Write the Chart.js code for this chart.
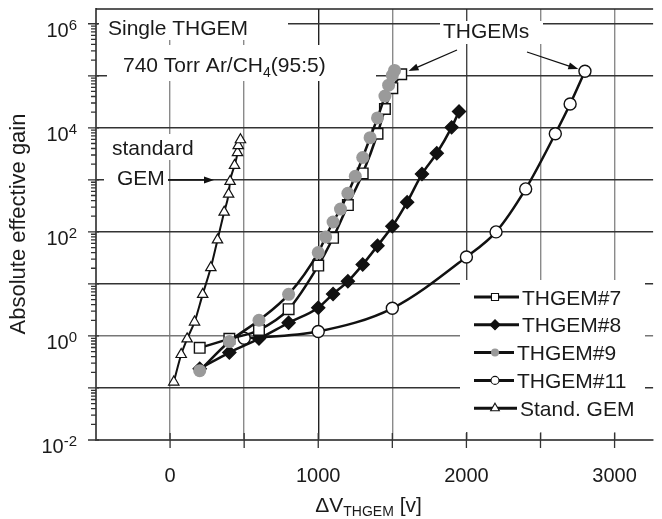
<!DOCTYPE html>
<html>
<head>
<meta charset="utf-8">
<script src="https://cdn.jsdelivr.net/npm/chart.js@4.4.1/dist/chart.umd.min.js"></script>
<style>
  html, body { margin: 0; padding: 0; background: #fff; }
  #wrap { width: 662px; height: 519px; }
</style>
</head>
<body>
<div id="wrap"><canvas id="gainChart"></canvas></div>
<script>
// values (volts, absolute gain)
const thgem7Volts = [200, 400, 600, 800, 1000, 1100, 1200, 1300, 1400, 1450, 1500, 1560];
const thgem7Gain  = [0.59, 0.88, 1.3, 3.27, 22.5, 77, 327, 1330, 7690, 23000, 57800, 107000];

const thgem8Volts = [200, 400, 600, 800, 1000, 1100, 1200, 1300, 1400, 1500, 1600, 1700, 1800, 1900, 1950];
const thgem8Gain  = [0.235, 0.48, 0.89, 1.79, 3.49, 6.4, 11.2, 23.5, 54, 128, 373, 1290, 3240, 10200, 20600];

const thgem9Volts = [200, 400, 600, 800, 1000, 1050, 1100, 1150, 1200, 1250, 1300, 1350, 1400, 1450, 1475, 1500, 1515];
const thgem9Gain  = [0.215, 0.78, 2.0, 6.3, 40, 80, 155, 274, 553, 1170, 2690, 6460, 15500, 40700, 66000, 102000, 127000];

const thgem11Volts = [500, 1000, 1500, 2000, 2200, 2400, 2600, 2700, 2800];
const thgem11Gain  = [0.9, 1.22, 3.4, 33, 100, 670, 7690, 28600, 122000];

const gemVolts = [25, 75, 115, 165, 220, 275, 320, 365, 395, 405, 435, 455, 460, 475];
const gemGain  = [0.13, 0.44, 0.88, 1.85, 6.3, 20.6, 70, 240, 530, 935, 1890, 3340, 4540, 5900];

const voltGrid = [0, 500, 1000, 1500, 2000, 2500, 3000];
const voltLabels = [0, 1000, 2000, 3000];
const gainExponents = [-2, 0, 2, 4, 6];

const FONT = "'Liberation Sans', Arial, Helvetica, sans-serif";
const INK = '#111';

const toPoints = (xs, ys) => xs.map((x, i) => ({ x: x, y: ys[i] }));

const lineSet = (label, xs, ys, style) => Object.assign({
    label: label,
    data: toPoints(xs, ys),
    borderColor: INK,
    borderWidth: 2.5,
    pointBorderColor: INK,
    pointBorderWidth: 1.4,
    cubicInterpolationMode: 'monotone',
    fill: false
}, style);

// index 0 is painted last, so the grey circles sit on top like in the figure
const datasets = [
    lineSet('THGEM#9', thgem9Volts, thgem9Gain, { pointStyle: 'circle', pointRadius: 6.5, pointBackgroundColor: '#9a9a9a', pointBorderColor: '#9a9a9a', pointBorderWidth: 0 }),
    lineSet('THGEM#7', thgem7Volts, thgem7Gain, { pointStyle: 'rect', pointRadius: 7.5, pointBackgroundColor: '#fff' }),
    lineSet('THGEM#8', thgem8Volts, thgem8Gain, { pointStyle: 'rectRot', pointRadius: 6.5, pointBackgroundColor: INK }),
    lineSet('THGEM#11', thgem11Volts, thgem11Gain, { pointStyle: 'circle', pointRadius: 6, pointBackgroundColor: '#fff' }),
    lineSet('Stand. GEM', gemVolts, gemGain, { pointStyle: 'triangle', pointRadius: 6, pointBackgroundColor: '#fff', borderWidth: 2, pointBorderWidth: 1.2 })
];

// legend rows in the figure's order: dataset label, marker size, text start
const legendRows = [
    { label: 'THGEM#7', r: 5, textX: 522 },
    { label: 'THGEM#8', r: 5, textX: 522 },
    { label: 'THGEM#9', r: 4, textX: 517 },
    { label: 'THGEM#11', r: 4, textX: 517 },
    { label: 'Stand. GEM', r: 5, textX: 520 }
];

function marker(ctx, style, x, y, r, fill, stroke, lw) {
    ctx.beginPath();
    if (style === 'rect') {
        const s = r * Math.SQRT1_2;
        ctx.rect(x - s, y - s, 2 * s, 2 * s);
    } else if (style === 'rectRot') {
        ctx.moveTo(x - r, y); ctx.lineTo(x, y - r); ctx.lineTo(x + r, y); ctx.lineTo(x, y + r); ctx.closePath();
    } else if (style === 'triangle') {
        ctx.moveTo(x, y - r);
        ctx.lineTo(x + r * Math.sin(2 * Math.PI / 3), y - r * Math.cos(2 * Math.PI / 3));
        ctx.lineTo(x + r * Math.sin(4 * Math.PI / 3), y - r * Math.cos(4 * Math.PI / 3));
        ctx.closePath();
    } else {
        ctx.arc(x, y, r, 0, Math.PI * 2);
    }
    ctx.fillStyle = fill;
    ctx.fill();
    if (lw > 0) { ctx.lineWidth = lw; ctx.strokeStyle = stroke; ctx.stroke(); }
}

function arrow(ctx, x0, y0, x1, y1) {
    const a = Math.atan2(y1 - y0, x1 - x0);
    const hl = 10, hw = 3.5;
    ctx.beginPath();
    ctx.moveTo(x0, y0);
    ctx.lineTo(x1 - Math.cos(a) * hl * 0.8, y1 - Math.sin(a) * hl * 0.8);
    ctx.lineWidth = 1.3;
    ctx.stroke();
    ctx.beginPath();
    ctx.moveTo(x1, y1);
    ctx.lineTo(x1 - Math.cos(a) * hl - Math.sin(a) * hw, y1 - Math.sin(a) * hl + Math.cos(a) * hw);
    ctx.lineTo(x1 - Math.cos(a) * hl + Math.sin(a) * hw, y1 - Math.sin(a) * hl - Math.cos(a) * hw);
    ctx.closePath();
    ctx.fill();
}

// arrow ending just outside the marker of a data point
function arrowTo(ctx, x0, y0, px, py, gap) {
    const d = Math.hypot(px - x0, py - y0);
    arrow(ctx, x0, y0, px - (px - x0) / d * gap, py - (py - y0) / d * gap);
}

function textRun(ctx, parts, x, y) {
    // parts: [text, size, dy]
    parts.forEach(p => {
        ctx.font = p[1] + 'px ' + FONT;
        ctx.fillText(p[0], x, y + (p[2] || 0));
        x += ctx.measureText(p[0]).width;
    });
    return x;
}

function runWidth(ctx, parts) {
    let w = 0;
    parts.forEach(p => { ctx.font = p[1] + 'px ' + FONT; w += ctx.measureText(p[0]).width; });
    return w;
}

const decorations = {
    id: 'decorations',
    beforeDatasetsDraw(chart) {
        const { ctx, chartArea: area, scales: { x, y } } = chart;
        ctx.save();

        // white patches where the figure's grid is broken by text
        ctx.fillStyle = '#fff';
        [[98, 6, 190, 34], [107, 45, 269, 36], [104, 134, 96, 26], [104, 160, 64, 32],
         [440, 21, 103, 23], [460, 280, 185, 152]].forEach(b => ctx.fillRect(b[0], b[1], b[2], b[3]));

        // top frame
        ctx.strokeStyle = '#222';
        ctx.lineWidth = 1.5;
        ctx.beginPath();
        ctx.moveTo(area.left, area.top);
        ctx.lineTo(area.right, area.top);
        ctx.stroke();

        // tick marks
        ctx.strokeStyle = '#333';
        ctx.lineWidth = 1.3;
        ctx.beginPath();
        for (let e = -2; e <= 6; e++) {
            const py = y.getPixelForValue(Math.pow(10, e));
            ctx.moveTo(area.left - 8, py); ctx.lineTo(area.left + 3, py);
            for (let m = 2; m <= 9; m++) {
                const v = m * Math.pow(10, e);
                if (v > y.max) break;
                const pm = y.getPixelForValue(v);
                ctx.moveTo(area.left - 5, pm); ctx.lineTo(area.left, pm);
            }
        }
        voltGrid.forEach(v => {
            const px = x.getPixelForValue(v);
            ctx.moveTo(px, area.bottom - 7); ctx.lineTo(px, area.bottom + 8);
        });
        ctx.stroke();

        ctx.fillStyle = '#1a1a1a';
        ctx.textBaseline = 'alphabetic';

        // y tick labels, 10 with a raised exponent
        gainExponents.forEach(e => {
            const py = y.getPixelForValue(Math.pow(10, e));
            ctx.textAlign = 'right';
            ctx.font = '15px ' + FONT;
            const ex = String(e);
            ctx.fillText(ex, 77, py + 6);
            const ew = ctx.measureText(ex).width;
            ctx.font = '20px ' + FONT;
            ctx.fillText('10', 77 - ew, py + 13);
        });

        // x tick labels
        ctx.textAlign = 'center';
        ctx.font = '20px ' + FONT;
        voltLabels.forEach(v => ctx.fillText(String(v), x.getPixelForValue(v), 482));

        // x title with subscript
        ctx.textAlign = 'left';
        const xTitle = [['\u0394V', 21], ['THGEM', 14, 4], [' [v]', 21]];
        textRun(ctx, xTitle, (area.left + area.right) / 2 - 6 - runWidth(ctx, xTitle) / 2, 512);

        // y title
        ctx.save();
        ctx.translate(25, 224);
        ctx.rotate(-Math.PI / 2);
        ctx.textAlign = 'center';
        ctx.font = '22px ' + FONT;
        ctx.fillText('Absolute effective gain', 0, 0);
        ctx.restore();

        // labels inside the plot
        ctx.textAlign = 'left';
        textRun(ctx, [['Single THGEM', 21]], 108, 35);
        textRun(ctx, [['740 Torr Ar/CH', 21], ['4', 14, 5], ['(95:5)', 21]], 123, 72);
        textRun(ctx, [['standard', 21]], 112, 155);
        textRun(ctx, [['GEM', 21]], 117, 185);
        textRun(ctx, [['THGEMs', 21]], 443, 38);

        ctx.strokeStyle = INK;
        ctx.fillStyle = INK;
        arrow(ctx, 168, 180, 214, 180);
        const last7 = thgem7Volts.length - 1;
        const last11 = thgem11Volts.length - 1;
        arrowTo(ctx, 457, 50, x.getPixelForValue(thgem7Volts[last7]), y.getPixelForValue(thgem7Gain[last7]), 8);
        arrowTo(ctx, 527, 52, x.getPixelForValue(thgem11Volts[last11]), y.getPixelForValue(thgem11Gain[last11]), 7);

        // legend
        legendRows.forEach((row, i) => {
            const ds = chart.data.datasets.find(d => d.label === row.label);
            const cy = 297 + i * 27.8;
            ctx.strokeStyle = INK;
            ctx.lineWidth = 3;
            ctx.beginPath();
            ctx.moveTo(474, cy); ctx.lineTo(row.textX - 3, cy);
            ctx.stroke();
            marker(ctx, ds.pointStyle, 495, cy, row.r, ds.pointBackgroundColor,
                   ds.pointBorderColor, ds.pointBorderWidth ? 1.1 : 0);
            ctx.fillStyle = '#1a1a1a';
            ctx.font = '21px ' + FONT;
            ctx.fillText(row.label, row.textX, cy + 7.5);
        });

        ctx.restore();
    }
};

const vGridColor = (ctx) => {
    const v = ctx.tick ? ctx.tick.value : null;
    if (v === 1000) return '#222';
    if (v === 2000) return '#444';
    return '#8a8a8a';
};

const hGridColor = (ctx) => {
    const v = ctx.tick ? ctx.tick.value : null;
    if (v === 1) return '#777';
    return '#333';
};

new Chart(document.getElementById('gainChart'), {
    type: 'line',
    data: { datasets: datasets },
    options: {
        responsive: true,
        maintainAspectRatio: false,
        animation: false,
        layout: { padding: { top: 5, right: 2, left: 0, bottom: 0 } },
        plugins: { legend: { display: false }, tooltip: { enabled: false } },
        scales: {
            x: {
                type: 'linear',
                min: -500,
                max: 3260,
                ticks: { display: false },
                afterBuildTicks: (s) => { s.ticks = voltGrid.map(v => ({ value: v })); },
                grid: { color: vGridColor, lineWidth: 1.4, drawTicks: false },
                border: { display: true, color: '#555', width: 2 },
                afterFit: (s) => { s.height = 79; }
            },
            y: {
                type: 'logarithmic',
                min: 0.01,
                max: 1.93e6,
                ticks: { display: false },
                afterBuildTicks: (s) => {
                    const t = [];
                    for (let e = -2; e <= 6; e++) t.push({ value: Math.pow(10, e) });
                    s.ticks = t;
                },
                grid: { color: hGridColor, lineWidth: 1.4, drawTicks: false },
                border: { display: true, color: '#555', width: 2 },
                afterFit: (s) => { s.width = 96; }
            }
        }
    },
    plugins: [decorations]
});
</script>
</body>
</html>
